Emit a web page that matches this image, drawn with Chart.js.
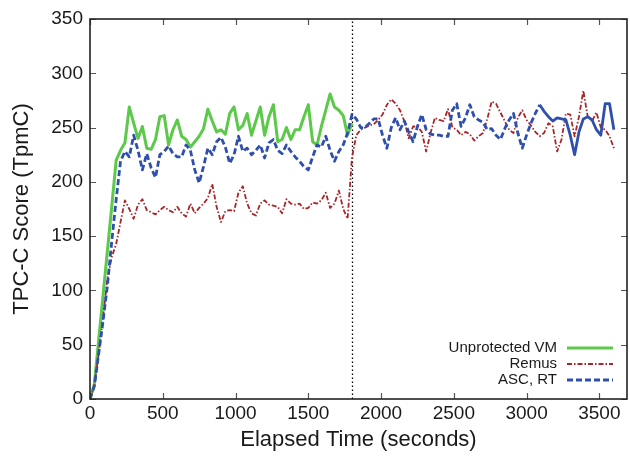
<!DOCTYPE html>
<html>
<head>
<meta charset="utf-8">
<script src="https://cdn.jsdelivr.net/npm/chart.js@4.4.1/dist/chart.umd.min.js"></script>
<style>
  html, body { margin: 0; padding: 0; background: #fff; }
  #wrap { width: 630px; height: 461px; position: relative; }
</style>
</head>
<body>
<div id="wrap"><canvas id="tpcChart"></canvas></div>
<script>
// samples every 30 s, starting at t = 0
const SAMPLE_INTERVAL = 30;
const FAILOVER_TIME = 1800;
const ASC_SOLID_FROM = 3090;
const X_TICKS = [0, 500, 1000, 1500, 2000, 2500, 3000, 3500];
const Y_TICKS = [0, 50, 100, 150, 200, 250, 300, 350];

const seriesNames = ['Unprotected VM', 'Remus', 'ASC, RT'];

const unprotectedVM = [
  0, 14, 55, 96, 137, 178, 220, 229, 236, 269, 254, 240, 251, 231, 230, 239, 260, 261, 234, 248,
  257, 242, 239, 232, 237, 242, 249, 267, 256, 246, 248, 244, 263, 269, 248, 252, 263, 243, 256, 269,
  243, 260, 271, 237, 239, 250, 239, 248, 248, 260, 271, 237, 234, 251, 266, 281, 269, 266, 261, 243,
  254
];

const remus = [
  0, 12, 42, 75, 111, 131, 143, 163, 183, 175, 166, 179, 184, 174, 172, 170, 174, 177, 174, 172,
  177, 171, 168, 180, 171, 176, 180, 185, 198, 177, 163, 173, 174, 173, 190, 196, 180, 171, 169, 180,
  183, 179, 178, 177, 171, 184, 180, 179, 180, 175, 176, 181, 180, 183, 190, 176, 180, 192, 175, 166,
  222, 243, 248, 250, 252, 253, 257, 262, 271, 276, 272, 266, 256, 240, 251, 251, 246, 228, 245, 259,
  257, 256, 267, 250, 248, 243, 246, 244, 238, 242, 245, 258, 274, 272, 264, 256, 248, 245, 259, 266,
  257, 252, 246, 242, 245, 254, 251, 228, 239, 263, 262, 242, 260, 284, 260, 256, 264, 250, 248, 242,
  231
];

const ascRT = [
  0, 12, 42, 72, 105, 146, 184, 219, 228, 223, 243, 229, 211, 226, 213, 204, 225, 228, 233, 226,
  223, 223, 234, 229, 211, 199, 214, 231, 225, 237, 241, 232, 217, 225, 242, 228, 231, 225, 229, 234,
  222, 236, 239, 229, 226, 234, 228, 223, 219, 214, 211, 223, 234, 232, 242, 229, 219, 228, 234, 245,
  262, 258, 250, 250, 254, 258, 258, 243, 231, 250, 259, 248, 256, 246, 237, 251, 262, 248, 244, 243,
  243, 242, 242, 266, 272, 251, 259, 271, 260, 257, 255, 248, 249, 243, 239, 249, 257, 263, 245, 231,
  243, 254, 263, 271, 265, 260, 256, 259, 258, 257, 243, 225, 246, 258, 260, 257, 248, 243, 272, 272,
  248
];

const FONT = '"Liberation Sans", Arial, Helvetica, sans-serif';
const TEXT_COLOR = '#1a1a1a';

const toPoints = (values) => values.map((v, i) => ({ x: i * SAMPLE_INTERVAL, y: v }));

// frame, inner ticks, failover marker and the in-plot legend (gnuplot style)
const gnuplotDecor = {
  id: 'gnuplotDecor',
  beforeDatasetsDraw(chart) {
    const { ctx, chartArea: a, scales: { x } } = chart;
    const fx = Math.round(x.getPixelForValue(FAILOVER_TIME)) + 0.5;
    ctx.save();
    ctx.strokeStyle = '#000';
    ctx.lineWidth = 1.3;
    ctx.setLineDash([1.5, 2.5]);
    ctx.beginPath();
    ctx.moveTo(fx, a.bottom);
    ctx.lineTo(fx, a.top);
    ctx.stroke();
    ctx.restore();
  },
  afterDraw(chart) {
    const { ctx, chartArea: a, scales: { x, y } } = chart;
    const tl = 6;
    ctx.save();

    ctx.strokeStyle = '#555';
    ctx.lineWidth = 1.2;
    ctx.beginPath();
    X_TICKS.forEach(v => {
      const px = Math.round(x.getPixelForValue(v)) + 0.5;
      ctx.moveTo(px, a.bottom); ctx.lineTo(px, a.bottom - tl);
      ctx.moveTo(px, a.top); ctx.lineTo(px, a.top + tl);
    });
    Y_TICKS.forEach(v => {
      const py = Math.round(y.getPixelForValue(v)) + 0.5;
      ctx.moveTo(a.left, py); ctx.lineTo(a.left + tl, py);
      ctx.moveTo(a.right, py); ctx.lineTo(a.right - tl, py);
    });
    ctx.stroke();

    ctx.strokeStyle = '#222';
    ctx.lineWidth = 1.6;
    ctx.strokeRect(a.left, a.top, a.right - a.left, a.bottom - a.top);

    // legend: right aligned text, sample line after it
    ctx.font = `15px ${FONT}`;
    ctx.fillStyle = TEXT_COLOR;
    ctx.textAlign = 'right';
    ctx.textBaseline = 'middle';
    const textRight = a.right - 70;
    const lineStart = a.right - 60;
    const lineEnd = a.right - 14;
    chart.data.datasets.forEach((ds, i) => {
      const rowY = a.bottom - 51 + i * 16;
      ctx.fillText(ds.label, textRight, rowY);
      ctx.strokeStyle = ds.borderColor;
      ctx.lineWidth = ds.borderWidth;
      ctx.setLineDash(ds.borderDash || []);
      ctx.beginPath();
      ctx.moveTo(lineStart, rowY);
      ctx.lineTo(lineEnd, rowY);
      ctx.stroke();
    });
    ctx.restore();
  }
};

new Chart(document.getElementById('tpcChart'), {
  type: 'line',
  data: {
    datasets: [
      {
        label: seriesNames[0],
        data: toPoints(unprotectedVM),
        borderColor: '#5cc94a',
        borderWidth: 3,
        order: 2
      },
      {
        label: seriesNames[1],
        data: toPoints(remus),
        borderColor: '#a8262a',
        borderWidth: 1.8,
        borderDash: [5, 2, 1.5, 2],
        order: 1
      },
      {
        label: seriesNames[2],
        data: toPoints(ascRT),
        borderColor: '#2f4fae',
        borderWidth: 2.8,
        borderDash: [6, 3],
        order: 0,
        segment: {
          borderDash: ctx => ctx.p0.parsed.x >= ASC_SOLID_FROM ? [] : [6, 3]
        }
      }
    ]
  },
  options: {
    responsive: true,
    maintainAspectRatio: false,
    animation: false,
    layout: { padding: { top: 19, right: 3, left: 0, bottom: 0 } },
    elements: {
      point: { radius: 0 },
      line: { tension: 0, fill: false, borderCapStyle: 'butt', borderJoinStyle: 'round' }
    },
    plugins: {
      legend: { display: false },
      tooltip: { enabled: false }
    },
    scales: {
      x: {
        type: 'linear',
        min: 0,
        max: 3690,
        grid: { display: false, drawTicks: false },
        border: { display: false },
        afterBuildTicks: (scale) => {
          scale.ticks = X_TICKS.map(v => ({ value: v }));
        },
        afterFit: (scale) => { scale.height = 62; },
        ticks: {
          color: TEXT_COLOR,
          font: { family: FONT, size: 19 },
          padding: 3,
          maxRotation: 0,
          autoSkip: false,
          callback: (v) => String(v)
        },
        title: {
          display: true,
          text: 'Elapsed Time (seconds)',
          color: TEXT_COLOR,
          font: { family: FONT, size: 22 },
          padding: { top: 0, bottom: 8 }
        }
      },
      y: {
        min: 0,
        max: 350,
        grid: { display: false, drawTicks: false },
        border: { display: false },
        afterBuildTicks: (scale) => {
          scale.ticks = Y_TICKS.map(v => ({ value: v }));
        },
        afterFit: (scale) => { scale.width = 90; },
        ticks: {
          color: TEXT_COLOR,
          font: { family: FONT, size: 19 },
          padding: 7,
          callback: (v) => String(v)
        },
        title: {
          display: true,
          text: 'TPC-C Score (TpmC)',
          color: TEXT_COLOR,
          font: { family: FONT, size: 22 },
          padding: { top: 9, bottom: 0 }
        }
      }
    }
  },
  plugins: [gnuplotDecor]
});
</script>
</body>
</html>
